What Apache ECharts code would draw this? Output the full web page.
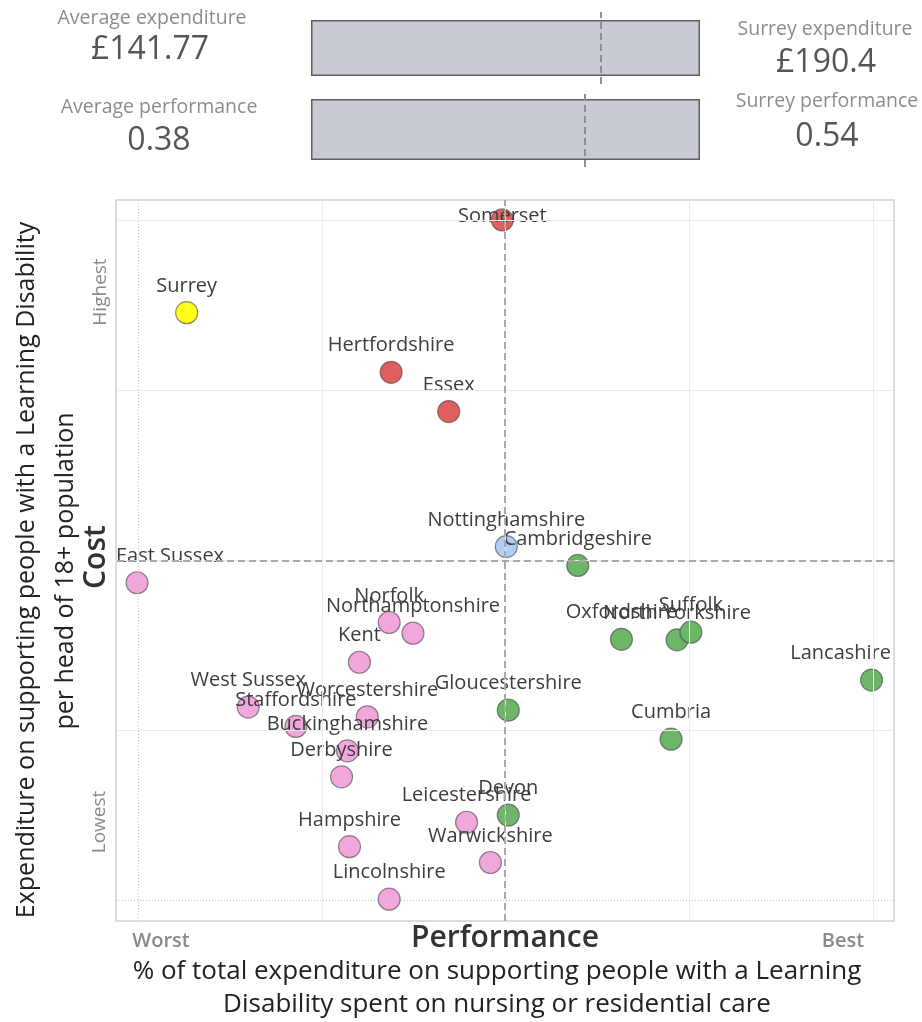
<!DOCTYPE html>
<html>
<head>
<meta charset="utf-8">
<script src="https://cdn.jsdelivr.net/npm/echarts@6/dist/echarts.min.js"></script>
<style>
  html, body { margin: 0; padding: 0; background: #ffffff; }
  #chart { width: 922px; height: 1022px; }
</style>
</head>
<body>
<div id="chart"></div>
<script>
// ---- Data -----------------------------------------------------------------
const counties = [
  'Somerset', 'Surrey', 'Hertfordshire', 'Essex', 'Nottinghamshire',
  'Cambridgeshire', 'East Sussex', 'Norfolk', 'Northamptonshire',
  'Oxfordshire', 'North Yorkshire', 'Suffolk', 'Kent', 'Lancashire',
  'West Sussex', 'Staffordshire', 'Worcestershire', 'Gloucestershire',
  'Buckinghamshire', 'Cumbria', 'Derbyshire', 'Devon', 'Leicestershire',
  'Hampshire', 'Warwickshire', 'Lincolnshire'
];
// share of LD spend going to nursing / residential care (lower is better)
const performance = [
  0.381, 0.54, 0.437, 0.408, 0.379,
  0.343, 0.565, 0.438, 0.426,
  0.321, 0.293, 0.286, 0.453, 0.195,
  0.509, 0.485, 0.449, 0.378,
  0.459, 0.296, 0.462, 0.378, 0.399,
  0.458, 0.387, 0.438
];
// expenditure per head of 18+ population (£)
const expenditure = [
  208.6, 190.4, 178.7, 171.0, 144.5,
  140.8, 137.4, 129.6, 127.5,
  126.3, 126.2, 127.7, 121.8, 118.3,
  113.0, 109.2, 111.1, 112.4,
  104.4, 106.7, 99.3, 91.8, 90.4,
  85.6, 82.5, 75.3
];
// quadrant / highlight group for each county
const groups = [
  'high', 'surrey', 'high', 'high', 'comparator',
  'better', 'worse', 'worse', 'worse',
  'better', 'better', 'better', 'worse', 'better',
  'worse', 'worse', 'worse', 'better',
  'worse', 'better', 'worse', 'better', 'worse',
  'worse', 'worse', 'worse'
];

const averageExpenditure = 141.77;
const surreyExpenditure = 190.4;
const averagePerformance = 0.38;
const surreyPerformance = 0.54;

// reference grid lines: worst -> best, lowest -> highest
const performanceGridLines = [0.5642, 0.4717, 0.3793, 0.2868, 0.1944];
const costGridLines = [75.09, 108.47, 141.84, 175.22, 208.59];
const performanceRange = [0.1837, 0.5756];
const costRange = [71.02, 212.52];

// ---- Styling ----------------------------------------------------------------
const groupColors = {
  high: '#e15f5f',
  surrey: '#ffff1a',
  comparator: '#aecdf7',
  better: '#6db567',
  worse: '#f1a7dc'
};
const FONT = '"Open Sans", "Noto Sans", sans-serif';
const plot = { left: 116, top: 200, right: 894, bottom: 921 };

const chart = echarts.init(document.getElementById('chart'), null, { renderer: 'canvas' });

const points = counties.map((name, i) => ({
  name: name,
  value: [performance[i], expenditure[i]],
  itemStyle: { color: groupColors[groups[i]] }
}));

const dashed = { type: [7, 4], color: '#a9a9a9', width: 2 };

function gridLine(dotted) {
  return dotted
    ? { type: [1, 2], color: '#c4c4c4', width: 1 }
    : { type: 'solid', color: '#ebebeb', width: 1 };
}

const gridMarks = []
  .concat(performanceGridLines.map((v, i) => ({ xAxis: v, lineStyle: gridLine(i === 0) })))
  .concat(costGridLines.map((v, i) => ({ yAxis: v, lineStyle: gridLine(i === 0) })));

function text(str, x, y, size, color, weight, rotation) {
  return {
    type: 'text', x: x, y: y, rotation: rotation || 0, silent: true,
    style: {
      text: str, fill: color,
      font: (weight || 'normal') + ' ' + size + 'px ' + FONT,
      align: 'center', verticalAlign: 'middle',
      textAlign: 'center', textVerticalAlign: 'middle'
    }
  };
}

const refLine = { silent: true, symbol: 'none', precision: 6, label: { show: false } };

const option = {
  animation: false,
  backgroundColor: '#ffffff',
  grid: [
    { left: 311, width: 389, top: 12, height: 72 },
    { left: 311, width: 389, top: 92, height: 75 },
    { left: plot.left, top: plot.top, width: plot.right - plot.left, height: plot.bottom - plot.top,
      show: true, borderColor: '#d2d2d2', borderWidth: 1.5, backgroundColor: 'transparent' }
  ],
  xAxis: [
    { gridIndex: 0, type: 'value', min: 0, max: surreyExpenditure, show: false },
    { gridIndex: 1, type: 'value', min: 0, max: surreyPerformance, show: false },
    { gridIndex: 2, type: 'value', min: performanceRange[0], max: performanceRange[1], inverse: true,
      axisLine: { show: false }, axisTick: { show: false }, axisLabel: { show: false }, splitLine: { show: false } }
  ],
  yAxis: [
    { gridIndex: 0, type: 'category', data: ['Surrey expenditure'], show: false },
    { gridIndex: 1, type: 'category', data: ['Surrey performance'], show: false },
    { gridIndex: 2, type: 'value', min: costRange[0], max: costRange[1],
      axisLine: { show: false }, axisTick: { show: false }, axisLabel: { show: false }, splitLine: { show: false } }
  ],
  series: [
    {
      type: 'bar', xAxisIndex: 0, yAxisIndex: 0, barWidth: 56, silent: true,
      data: [surreyExpenditure],
      itemStyle: { color: '#c9cbd4', borderColor: '#5f5f5f', borderWidth: 1.5 },
      markLine: Object.assign({}, refLine, {
        lineStyle: { type: [7, 4], color: '#8f8f8f', width: 2 },
        data: [{ xAxis: averageExpenditure }] })
    },
    {
      type: 'bar', xAxisIndex: 1, yAxisIndex: 1, barWidth: 61, silent: true,
      data: [surreyPerformance],
      itemStyle: { color: '#c9cbd4', borderColor: '#5f5f5f', borderWidth: 1.5 },
      markLine: Object.assign({}, refLine, {
        lineStyle: { type: [7, 4], color: '#8f8f8f', width: 2 },
        data: [{ xAxis: averagePerformance }] })
    },
    {
      // background grid
      type: 'scatter', xAxisIndex: 2, yAxisIndex: 2, data: [], z: 1, silent: true,
      markLine: Object.assign({}, refLine, { data: gridMarks })
    },
    {
      type: 'scatter', xAxisIndex: 2, yAxisIndex: 2, z: 3,
      symbolSize: 22,
      data: points,
      itemStyle: { borderColor: 'rgba(70,70,70,0.6)', borderWidth: 1.2, opacity: 1 },
      label: {
        show: true, position: 'top', distance: 5, formatter: '{b}',
        color: '#3d3d3d', fontFamily: FONT, fontSize: 20
      },
      labelLayout: function (p) {
        const r = p.labelRect;
        const out = {};
        if (r.x < plot.left) out.dx = plot.left - r.x;
        else if (r.x + r.width > plot.right - 3) out.dx = plot.right - 3 - (r.x + r.width);
        if (r.y < plot.top) out.dy = plot.top + 6 - r.y;
        return out;
      }
    },
    {
      // average reference lines
      type: 'scatter', xAxisIndex: 2, yAxisIndex: 2, data: [], z: 5, silent: true,
      markLine: Object.assign({}, refLine, { lineStyle: dashed,
        data: [{ xAxis: averagePerformance }, { yAxis: averageExpenditure }] })
    }
  ],
  graphic: [
    text('Average expenditure', 152, 18, 19.5, '#8c8c8c'),
    text('£' + averageExpenditure, 150, 50, 32, '#555555', 500),
    text('Average performance', 159, 107, 19.5, '#8c8c8c'),
    text(String(averagePerformance), 159, 141, 32, '#555555', 500),
    text('Surrey expenditure', 825, 29, 19.5, '#8c8c8c'),
    text('£' + surreyExpenditure, 826, 63, 32, '#555555', 500),
    text('Surrey performance', 827, 101, 19.5, '#8c8c8c'),
    text(String(surreyPerformance), 827, 137, 32, '#555555', 500),

    text('Worst', 161, 941, 20, '#8a8a8a', 600),
    text('Best', 843, 941, 20, '#8a8a8a', 600),
    text('Performance', 505, 938, 30, '#333333', 600),
    text('% of total expenditure on supporting people with a Learning', 497, 972, 26, '#222222'),
    text('Disability spent on nursing or residential care', 497, 1005, 26, '#222222'),

    text('Highest', 101, 292, 19, '#8a8a8a', 'normal', Math.PI / 2),
    text('Lowest', 100, 822, 19, '#8a8a8a', 'normal', Math.PI / 2),
    text('Cost', 96, 557, 30, '#333333', 600, Math.PI / 2),
    text('Expenditure on supporting people with a Learning Disability', 27, 570, 25, '#222222', 'normal', Math.PI / 2),
    text('per head of 18+ population', 66, 571, 25, '#222222', 'normal', Math.PI / 2)
  ]
};

chart.setOption(option);
</script>
</body>
</html>
